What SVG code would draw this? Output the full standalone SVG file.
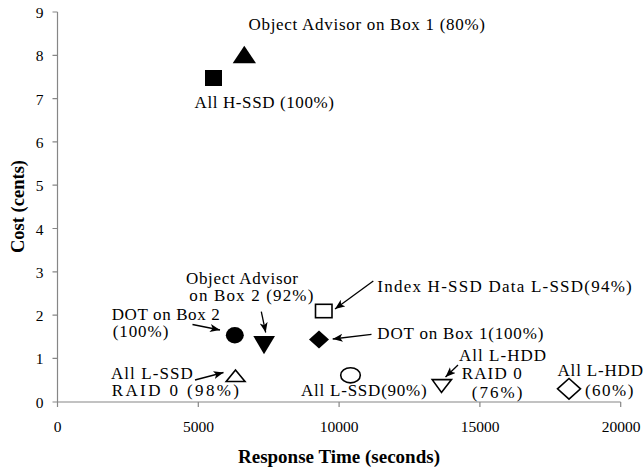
<svg xmlns="http://www.w3.org/2000/svg" width="644" height="468" viewBox="0 0 644 468">
<style>
.ax{stroke:#868686;stroke-width:1.2;fill:none}
.tk{font-family:"Liberation Serif","Times New Roman",serif;font-size:15.5px;fill:#000}
.tt{font-family:"Liberation Serif","Times New Roman",serif;font-weight:bold;fill:#000}
.lb{font-family:"Liberation Serif","Times New Roman",serif;font-size:17px;fill:#000}
.fill{fill:#000;stroke:none}
.open{fill:#fff;stroke:#000;stroke-width:1.6}
.arr{stroke:#000;stroke-width:1.3;fill:none;marker-end:url(#ah)}
</style>
<defs>
<marker id="ah" markerUnits="userSpaceOnUse" markerWidth="12" markerHeight="10" refX="10" refY="4" orient="auto" viewBox="0 0 12 10">
<path d="M0,0 L10,4 L0,8 L2.5,4 z" fill="#000"/>
</marker>
</defs>
<rect width="644" height="468" fill="#fff"/>
<g id="axes">
<line class="ax" x1="57.5" y1="12" x2="57.5" y2="402"/>
<line class="ax" x1="57.5" y1="402" x2="620.7" y2="402"/>
<path class="ax" d="M52.5,12H57.5M52.5,55.3H57.5M52.5,98.6H57.5M52.5,141.9H57.5M52.5,185.2H57.5M52.5,228.5H57.5M52.5,271.8H57.5M52.5,315.1H57.5M52.5,358.4H57.5M52.5,402H57.5"/>
<path class="ax" d="M57.5,402V407M198.3,402V407M339.1,402V407M479.9,402V407M620.7,402V407"/>
<g class="tk" text-anchor="end">
<text x="43.5" y="18">9</text>
<text x="43.5" y="61.3">8</text>
<text x="43.5" y="104.6">7</text>
<text x="43.5" y="147.9">6</text>
<text x="43.5" y="191.2">5</text>
<text x="43.5" y="234.5">4</text>
<text x="43.5" y="277.8">3</text>
<text x="43.5" y="321.1">2</text>
<text x="43.5" y="364.4">1</text>
<text x="43.5" y="407.7">0</text>
</g>
<g class="tk" text-anchor="middle">
<text x="57.5" y="431.7">0</text>
<text x="198.5" y="431.7">5000</text>
<text x="339.1" y="431.7">10000</text>
<text x="480.2" y="431.7">15000</text>
<text x="621" y="431.7">20000</text>
</g>
<text class="tt" x="339" y="462.7" font-size="19" text-anchor="middle">Response Time (seconds)</text>
<text class="tt" transform="translate(23.5,206.5) rotate(-90)" font-size="18.5" text-anchor="middle">Cost (cents)</text>
</g>
<g id="connectors">
<line class="arr" x1="192.5" y1="324.5" x2="220" y2="330"/>
<line class="arr" x1="261.3" y1="311.7" x2="265.7" y2="332.5"/>
<line class="arr" x1="195" y1="380" x2="223.5" y2="372.5"/>
<line class="arr" x1="373.3" y1="281" x2="335" y2="309"/>
<line class="arr" x1="371.5" y1="334.3" x2="332.7" y2="339"/>
<line class="arr" x1="458" y1="365" x2="445.5" y2="377"/>
</g>
<g id="node-object-advisor-box1">
<polygon class="fill" points="244.3,45.7 232.7,63.3 256,63.3"/>
<text class="lb" x="248.5" y="29.5" textLength="236.5" lengthAdjust="spacing">Object Advisor on Box 1 (80%)</text>
</g>
<g id="node-all-hssd">
<rect class="fill" x="205" y="70" width="17" height="16"/>
<text class="lb" x="194.5" y="108" textLength="139.5" lengthAdjust="spacing">All H-SSD (100%)</text>
</g>
<g id="node-object-advisor-box2">
<polygon class="fill" points="253.3,336 275,336 264,354.3"/>
<text class="lb" x="186" y="284" textLength="112" lengthAdjust="spacing">Object Advisor</text>
<text class="lb" x="189.3" y="301" textLength="124" lengthAdjust="spacing">on Box 2 (92%)</text>
</g>
<g id="node-dot-box2">
<ellipse class="fill" cx="234.8" cy="335.3" rx="9" ry="8.2"/>
<text class="lb" x="111.7" y="320" textLength="108" lengthAdjust="spacing">DOT on Box 2</text>
<text class="lb" x="112.7" y="336.7" textLength="55.6" lengthAdjust="spacing">(100%)</text>
</g>
<g id="node-all-lssd-raid0">
<polygon class="open" points="235.5,370 226.2,381.5 245,381.5"/>
<text class="lb" x="111" y="379.3" textLength="81.7" lengthAdjust="spacing">All L-SSD</text>
<text class="lb" x="111.7" y="396" textLength="127.3" lengthAdjust="spacing">RAID 0 (98%)</text>
</g>
<g id="node-index-hssd-data-lssd">
<rect class="open" x="315.5" y="304.3" width="16.5" height="13.4"/>
<text class="lb" x="377.3" y="291.7" textLength="254.4" lengthAdjust="spacing">Index H-SSD Data L-SSD(94%)</text>
</g>
<g id="node-dot-box1">
<polygon class="fill" points="319,330.5 329,339.5 319,348.5 309,339.5"/>
<text class="lb" x="377.3" y="339" textLength="166" lengthAdjust="spacing">DOT on Box 1(100%)</text>
</g>
<g id="node-all-lssd">
<ellipse class="open" cx="350.5" cy="375.3" rx="9.8" ry="7.6"/>
<text class="lb" x="301" y="395.5" textLength="125.7" lengthAdjust="spacing">All L-SSD(90%)</text>
</g>
<g id="node-all-lhdd-raid0">
<polygon class="open" points="432.2,379.6 451.5,379.6 441.5,392.5"/>
<text class="lb" x="459" y="361" textLength="87" lengthAdjust="spacing">All L-HDD</text>
<text class="lb" x="461.7" y="379.3" textLength="60" lengthAdjust="spacing">RAID  0</text>
<text class="lb" x="471.7" y="397.7" textLength="50.6" lengthAdjust="spacing">(76%)</text>
</g>
<g id="node-all-lhdd">
<polygon class="open" points="569,378.5 580.5,388.8 569,399.2 557.5,388.8"/>
<text class="lb" x="557.5" y="376" textLength="85.5" lengthAdjust="spacing">All L-HDD</text>
<text class="lb" x="585" y="396" textLength="48.3" lengthAdjust="spacing">(60%)</text>
</g>
</svg>
